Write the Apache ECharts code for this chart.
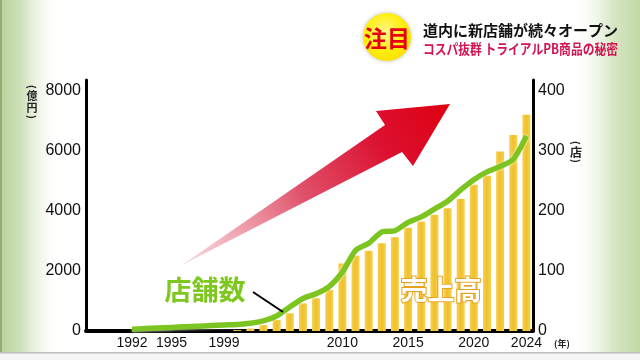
<!DOCTYPE html>
<html><head><meta charset="utf-8">
<script src="https://cdn.jsdelivr.net/npm/echarts@6/dist/echarts.min.js"></script>
<style>html,body{margin:0;padding:0;background:#fff}#c{width:640px;height:360px}</style>
</head><body><div id="c"></div>
<script>
const padSlots = ['', '', ''];
const years = ['1992','1993','1994','1995','1996','1997','1998','1999','2002','2003','2004','2005','2006','2007','2008','2009','2010','2011','2012','2013','2014','2015','2016','2017','2018','2019','2020','2021','2022','2023','2024'];
const sales = [0,0,0,0,0,0,0,0,30,80,200,370,590,920,1090,1370,2250,2510,2670,2920,3120,3440,3650,3870,4090,4400,4870,5170,5980,6530,7200];
const stores = [3,4,5,6,7,8,9,10,11,13,17,25,40,54,62,74,98,134,146,165,167,181,190,203,216,235,252,265,274,286,325];
const xTickLabels = ['1992','1995','1999','2010','2015','2020','2024'];
const leftTicks = [0,2000,4000,6000,8000];
const rightTicks = [0,100,200,300,400];

const categories = padSlots.concat(years);
const padNulls = padSlots.map(() => null);
const NUM_FONT = '"Liberation Sans", Arial, sans-serif';
const JP_FONT = '"Noto Sans CJK JP", sans-serif';

function unitText(txt, x, y, size, rot) {
  return {type: 'text', z: 31, silent: true, x: x, y: y, rotation: rot || 0,
    style: {text: txt, fill: '#222', fontSize: size, fontWeight: 'bold', fontFamily: JP_FONT,
      align: 'center', verticalAlign: 'middle'}};
}

const chart = echarts.init(document.getElementById('c'), null, {renderer: 'canvas'});
chart.setOption({
  animation: false,
  backgroundColor: '#ffffff',
  grid: {left: 86, right: 107, top: 80, bottom: 29},
  xAxis: {
    type: 'category',
    data: categories,
    boundaryGap: true,
    axisLine: {show: true, lineStyle: {color: '#000', width: 4}},
    axisTick: {show: false},
    splitLine: {show: false},
    axisLabel: {
      interval: (i, v) => xTickLabels.includes(v),
      color: '#111', fontSize: 14, fontFamily: NUM_FONT, margin: 5
    }
  },
  yAxis: [{
    type: 'value', position: 'left', min: 0, max: 8360, interval: 2000,
    axisLine: {show: true, lineStyle: {color: '#000', width: 3}},
    axisTick: {show: false}, splitLine: {show: false},
    axisLabel: {showMaxLabel: false, color: '#111', fontSize: 16, fontFamily: NUM_FONT, margin: 5,
      formatter: v => leftTicks.includes(v) ? String(v) : ''}
  }, {
    type: 'value', position: 'right', min: 0, max: 418, interval: 100,
    axisLine: {show: true, lineStyle: {color: '#000', width: 3}},
    axisTick: {show: false}, splitLine: {show: false},
    axisLabel: {showMaxLabel: false, color: '#111', fontSize: 16, fontFamily: NUM_FONT, margin: 5,
      formatter: v => rightTicks.includes(v) ? String(v) : ''}
  }],
  series: [{
    name: '売上高', type: 'bar', yAxisIndex: 0,
    data: padNulls.concat(sales),
    barWidth: 8,
    itemStyle: {color: {type: 'linear', x: 0, y: 0, x2: 1, y2: 0, colorStops: [
      {offset: 0, color: '#F6D050'}, {offset: 0.5, color: '#F0C02A'}, {offset: 1, color: '#F6D050'}]}},
    z: 2
  }, {
    name: '店舗数', type: 'line', yAxisIndex: 1,
    data: padNulls.concat(stores),
    smooth: 0.25, symbol: 'none', connectNulls: false,
    lineStyle: {color: '#7CC520', width: 5.5, shadowColor: 'rgba(255,255,255,0.9)', shadowBlur: 3},
    z: 5
  }],
  graphic: [
    {type: 'rect', shape: {x: 0, y: 0, width: 62, height: 352}, z: -10, silent: true,
      style: {fill: {type: 'linear', x: 0, y: 0, x2: 1, y2: 0, colorStops: [
        {offset: 0, color: '#B9D29C'}, {offset: 0.35, color: '#CFE0BA'}, {offset: 1, color: 'rgba(255,255,255,0)'}]}}},
    {type: 'rect', shape: {x: 0, y: 0, width: 2, height: 352}, z: -9, silent: true, style: {fill: '#93AE78'}},
    {type: 'rect', shape: {x: 572, y: 0, width: 68, height: 352}, z: -10, silent: true,
      style: {fill: {type: 'linear', x: 0, y: 0, x2: 1, y2: 0, colorStops: [
        {offset: 0, color: 'rgba(255,255,255,0)'}, {offset: 0.6, color: '#D7E6C4'}, {offset: 1, color: '#C3D9A8'}]}}},
    {type: 'rect', shape: {x: 0, y: 352, width: 640, height: 8}, z: -9, silent: true, style: {fill: '#F4F4F4'}},
    {type: 'rect', shape: {x: 0, y: 352, width: 640, height: 1.5}, z: -8, silent: true, style: {fill: '#BDBDBD'}},
    {type: 'polygon', z: 20, silent: true,
      shape: {points: [[182, 265], [385, 125], [376, 111], [450, 104], [413, 166], [402, 152]]},
      style: {fill: {type: 'linear', x: 0, y: 1, x2: 1, y2: 0, colorStops: [
        {offset: 0, color: 'rgba(244,190,196,0.6)'}, {offset: 0.45, color: '#E0506A'},
        {offset: 0.75, color: '#DC1030'}, {offset: 1, color: '#DE0012'}]}}},
    {type: 'circle', z: 30, silent: true, shape: {cx: 387, cy: 37, r: 24},
      style: {fill: {type: 'radial', x: 0.45, y: 0.4, r: 0.65, colorStops: [
        {offset: 0, color: '#FFF98A'}, {offset: 0.6, color: '#FFEE10'}, {offset: 1, color: '#FADF00'}]},
        shadowColor: 'rgba(0,0,0,0.25)', shadowBlur: 4}},
    {type: 'text', z: 31, silent: true, x: 387, y: 38,
      style: {text: '注目', fill: '#E60012', fontSize: 23, fontWeight: 'bold', fontFamily: JP_FONT,
        align: 'center', verticalAlign: 'middle'}},
    {type: 'text', z: 31, silent: true, x: 423, y: 30,
      style: {text: '道内に新店舗が続々オープン', fill: '#111', fontSize: 15, fontWeight: 'bold', fontFamily: JP_FONT,
        align: 'left', verticalAlign: 'middle'}},
    {type: 'text', z: 31, silent: true, x: 423, y: 49, scaleX: 0.84,
      style: {text: 'コスパ抜群 トライアルPB商品の秘密', fill: '#D21550', fontSize: 14, fontWeight: 'bold', fontFamily: JP_FONT,
        align: 'left', verticalAlign: 'middle'}},
    unitText('(', 32, 87, 10, -Math.PI / 2),
    unitText('億', 32, 96, 11),
    unitText('円', 32, 108, 11),
    unitText(')', 32, 117, 10, -Math.PI / 2),
    unitText('(', 576, 143, 10, -Math.PI / 2),
    unitText('店', 576, 152, 12),
    unitText(')', 576, 161, 10, -Math.PI / 2),
    unitText('(年)', 562, 344, 9),
    {type: 'text', z: 40, silent: true, x: 205, y: 290,
      style: {text: '店舗数', fill: '#7DC81E', fontSize: 27, fontWeight: 'bold', fontFamily: JP_FONT,
        stroke: '#ffffff', lineWidth: 2, align: 'center', verticalAlign: 'middle'}},
    {type: 'line', z: 40, silent: true, shape: {x1: 253, y1: 292, x2: 283, y2: 312},
      style: {stroke: '#000', lineWidth: 2}},
    {type: 'text', z: 40, silent: true, x: 441, y: 290,
      style: {text: '売上高', fill: '#ffffff', fontSize: 27, fontWeight: 'bold', fontFamily: JP_FONT,
        stroke: '#E8A020', lineWidth: 2, shadowColor: 'rgba(170,90,0,0.9)', shadowBlur: 6,
        align: 'center', verticalAlign: 'middle'}}
  ]
});
</script>
</body></html>
